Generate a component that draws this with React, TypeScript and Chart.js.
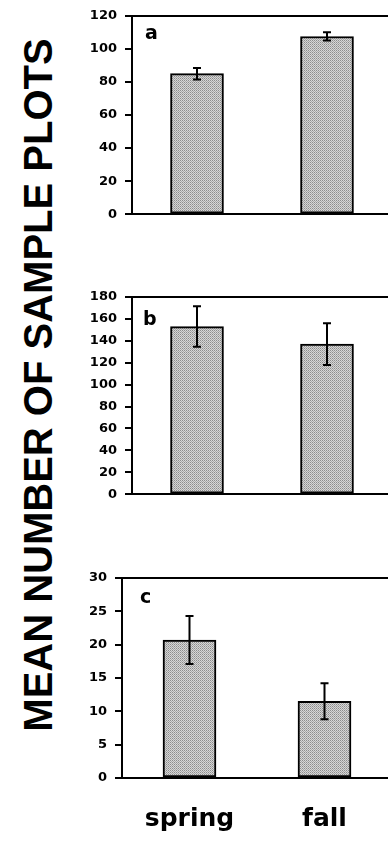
import React, { useEffect, useRef } from "react";
import { Chart, registerables } from "chart.js";

Chart.register(...registerables);

// ---- data ----
const seasons = ["spring", "fall"];
const panelLetters = ["a", "b", "c"];
const meansA = [85, 107.5];
const errorsA = [3.5, 2.5];
const meansB = [153, 137];
const errorsB = [18.5, 19];
const meansC = [20.7, 11.5];
const errorsC = [3.6, 2.7];
const yMaxes = [120, 180, 30];
const ySteps = [20, 20, 5];
const yTitle = "MEAN NUMBER OF SAMPLE PLOTS";

function makePattern(): CanvasPattern | string {
  const c = document.createElement("canvas");
  c.width = 2;
  c.height = 2;
  const g = c.getContext("2d");
  if (!g) return "#bdbdbd";
  g.fillStyle = "#d6d6d6";
  g.fillRect(0, 0, 2, 2);
  g.fillStyle = "#8c8c8c";
  g.fillRect(0, 0, 1, 1);
  g.fillStyle = "#a8a8a8";
  g.fillRect(1, 1, 1, 1);
  return g.createPattern(c, "repeat") || "#bdbdbd";
}

const errorBarPlugin = {
  id: "errorBars",
  afterDatasetsDraw(chart: any, _args: any, opts: any) {
    const errs: number[] = opts.errors || [];
    const y = chart.scales.y;
    const meta = chart.getDatasetMeta(0);
    const vals = chart.data.datasets[0].data as number[];
    const ctx = chart.ctx;
    ctx.save();
    ctx.strokeStyle = "#000";
    ctx.lineWidth = 2;
    meta.data.forEach((bar: any, i: number) => {
      const v = vals[i];
      const e = errs[i] || 0;
      const top = y.getPixelForValue(v + e);
      const bot = y.getPixelForValue(v - e);
      const x = bar.x;
      ctx.beginPath();
      ctx.moveTo(x, top);
      ctx.lineTo(x, bot);
      ctx.moveTo(x - 4, top);
      ctx.lineTo(x + 4, top);
      ctx.moveTo(x - 4, bot);
      ctx.lineTo(x + 4, bot);
      ctx.stroke();
    });
    ctx.restore();
  },
};

const letterPlugin = {
  id: "panelLetter",
  afterDraw(chart: any, _args: any, opts: any) {
    const a = chart.chartArea;
    const ctx = chart.ctx;
    ctx.save();
    ctx.fillStyle = "#000";
    ctx.font = "bold 19px 'DejaVu Sans'";
    ctx.textBaseline = "alphabetic";
    ctx.textAlign = "left";
    ctx.fillText(opts.text, a.left + opts.dx, a.top + opts.dy);
    ctx.restore();
  },
};

type PanelProps = {
  top: number;
  height: number;
  padTop: number;
  padBottom: number;
  yWidth: number;
  xHeight: number;
  showX: boolean;
  means: number[];
  errors: number[];
  max: number;
  step: number;
  letter: string;
  dx: number;
  dy: number;
};

function Panel(p: PanelProps) {
  const ref = useRef<HTMLCanvasElement>(null);
  useEffect(() => {
    if (!ref.current) return;
    const pattern = makePattern();
    const chart = new Chart(ref.current, {
      type: "bar",
      data: {
        labels: seasons,
        datasets: [
          {
            data: p.means,
            backgroundColor: pattern as any,
            borderColor: "#000",
            borderWidth: 2,
            borderSkipped: false,
            barThickness: 53,
          },
        ],
      },
      plugins: [errorBarPlugin, letterPlugin],
      options: {
        responsive: false,
        animation: false,
        devicePixelRatio: 1,
        layout: { padding: { top: p.padTop, bottom: p.padBottom, left: 0, right: 0 } },
        plugins: {
          legend: { display: false },
          tooltip: { enabled: false },
          errorBars: { errors: p.errors },
          panelLetter: { text: p.letter, dx: p.dx, dy: p.dy },
        } as any,
        scales: {
          x: {
            type: "category",
            grid: { display: false },
            border: { display: true, color: "#000", width: 2 },
            ticks: {
              display: p.showX,
              color: "#000",
              padding: 18,
              font: { family: "'DejaVu Sans'", weight: "bold", size: 25 },
            },
            afterFit: (s: any) => {
              s.height = p.xHeight;
            },
          },
          y: {
            min: 0,
            max: p.max,
            ticks: {
              stepSize: p.step,
              color: "#000",
              padding: 8,
              font: { family: "'DejaVu Sans'", weight: "bold", size: 13 },
            },
            grid: {
              color: (c: any) => (c.tick && c.tick.value === p.max ? "#000" : "rgba(0,0,0,0)"),
              lineWidth: 2,
              drawTicks: true,
              tickColor: "#000",
              tickWidth: 2,
              tickLength: 7,
            },
            border: { display: true, color: "#000", width: 2 },
            afterFit: (s: any) => {
              s.width = p.yWidth;
            },
          },
        },
      } as any,
    });
    return () => chart.destroy();
  }, []);
  return (
    <canvas
      ref={ref}
      width={392}
      height={p.height}
      style={{ position: "absolute", left: 0, top: p.top, width: 392, height: p.height }}
    />
  );
}

export default function App() {
  return (
    <div
      style={{
        position: "fixed",
        left: 0,
        top: 0,
        width: 388,
        height: 845,
        overflow: "hidden",
        background: "#fff",
      }}
    >
      <div
        style={{
          position: "absolute",
          left: 38,
          top: 385,
          transform: "translate(-50%, -50%) rotate(-90deg)",
          whiteSpace: "nowrap",
          fontFamily: "'Liberation Sans', Arial, sans-serif",
          fontWeight: "bold",
          fontSize: 40,
          lineHeight: 1,
          color: "#000",
        }}
      >
        {yTitle}
      </div>
      <Panel
        top={0}
        height={230}
        padTop={15}
        padBottom={15}
        yWidth={132}
        xHeight={0}
        showX={false}
        means={meansA}
        errors={errorsA}
        max={yMaxes[0]}
        step={ySteps[0]}
        letter={panelLetters[0]}
        dx={13}
        dy={23}
      />
      <Panel
        top={280}
        height={230}
        padTop={17}
        padBottom={14}
        yWidth={132}
        xHeight={0}
        showX={false}
        means={meansB}
        errors={errorsB}
        max={yMaxes[1]}
        step={ySteps[1]}
        letter={panelLetters[1]}
        dx={11}
        dy={28}
      />
      <Panel
        top={560}
        height={285}
        padTop={18}
        padBottom={0}
        yWidth={122}
        xHeight={67}
        showX={true}
        means={meansC}
        errors={errorsC}
        max={yMaxes[2]}
        step={ySteps[2]}
        letter={panelLetters[2]}
        dx={18}
        dy={25}
      />
    </div>
  );
}
